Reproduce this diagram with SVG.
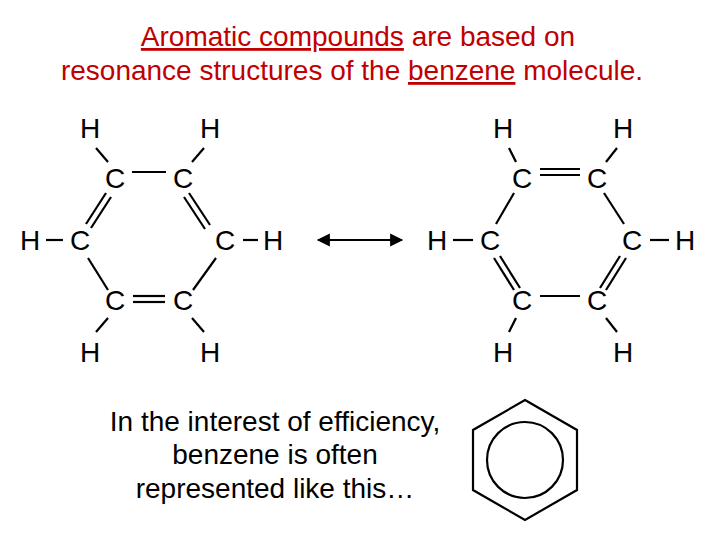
<svg xmlns="http://www.w3.org/2000/svg" width="720" height="540" viewBox="0 0 720 540">
<style>
text{font-family:"Liberation Sans",Arial,sans-serif;font-size:28px;text-anchor:middle;fill:#000}
.t{fill:#c00000}
.b line{stroke:#000;stroke-width:2.2}
</style>
<defs><marker id="ah" viewBox="0 0 10 10" refX="9" refY="5" markerWidth="8" markerHeight="6" orient="auto-start-reverse"><path d="M0,0L10,5L0,10z" fill="#000"/></marker></defs>
<rect width="720" height="540" fill="#fff"/>
<g id="title">
<text class="t" x="358" y="46"><tspan text-decoration="underline">Aromatic compounds</tspan> are based on</text>
<text class="t" x="352" y="80">resonance structures of the <tspan text-decoration="underline">benzene</tspan> molecule.</text>
</g>
<g id="left-atoms">
<text x="90" y="138">H</text><text x="210" y="138">H</text>
<text x="115" y="188">C</text><text x="183" y="188">C</text>
<text x="30" y="250">H</text><text x="80" y="250">C</text>
<text x="225" y="250">C</text><text x="273" y="250">H</text>
<text x="115" y="310">C</text><text x="183" y="310">C</text>
<text x="90" y="362">H</text><text x="210" y="362">H</text>
</g>
<g id="right-atoms">
<text x="503" y="138">H</text><text x="623" y="138">H</text>
<text x="522" y="188">C</text><text x="597" y="188">C</text>
<text x="437" y="250">H</text><text x="490" y="250">C</text>
<text x="632" y="250">C</text><text x="685" y="250">H</text>
<text x="522" y="310">C</text><text x="597" y="310">C</text>
<text x="503" y="362">H</text><text x="623" y="362">H</text>
</g>
<g id="connectors" class="b">
<line x1="96" y1="148" x2="108" y2="162"/><line x1="204" y1="148" x2="192" y2="162"/>
<line x1="132" y1="172" x2="166" y2="172"/>
<line x1="46" y1="240" x2="63" y2="240"/><line x1="243" y1="240" x2="258" y2="240"/>
<line x1="106" y1="193" x2="86" y2="224"/><line x1="111" y1="197" x2="91" y2="228"/>
<line x1="189" y1="193" x2="210" y2="225"/><line x1="184" y1="197" x2="205" y2="229"/>
<line x1="88" y1="258" x2="108" y2="290"/><line x1="216" y1="258" x2="193" y2="290"/>
<line x1="133" y1="296" x2="165" y2="296"/><line x1="133" y1="302" x2="165" y2="302"/>
<line x1="108" y1="318" x2="96" y2="332"/><line x1="192" y1="318" x2="204" y2="332"/>
<line x1="509" y1="148" x2="516" y2="162"/><line x1="617" y1="148" x2="606" y2="162"/>
<line x1="540" y1="169" x2="580" y2="169"/><line x1="540" y1="175" x2="580" y2="175"/>
<line x1="453" y1="240" x2="473" y2="240"/><line x1="650" y1="240" x2="669" y2="240"/>
<line x1="514" y1="193" x2="496" y2="224"/><line x1="604" y1="193" x2="624" y2="224"/>
<line x1="494" y1="258" x2="514" y2="290"/><line x1="500" y1="256" x2="520" y2="288"/>
<line x1="626" y1="258" x2="606" y2="290"/><line x1="620" y1="256" x2="600" y2="288"/>
<line x1="540" y1="296" x2="580" y2="296"/>
<line x1="516" y1="318" x2="509" y2="332"/><line x1="606" y1="318" x2="617" y2="332"/>
<line x1="318" y1="240" x2="402" y2="240" stroke-width="3" marker-start="url(#ah)" marker-end="url(#ah)"/>
</g>
<g id="note">
<text x="275" y="431">In the interest of efficiency,</text>
<text x="275" y="464">benzene is often</text>
<text x="275" y="498">represented like this…</text>
</g>
<g id="benzene" fill="none" stroke="#000" stroke-width="2.2">
<polygon points="525,400 577,430 577,490 525,520 473,490 473,430"/>
<circle cx="525" cy="460" r="38"/>
</g>
</svg>
